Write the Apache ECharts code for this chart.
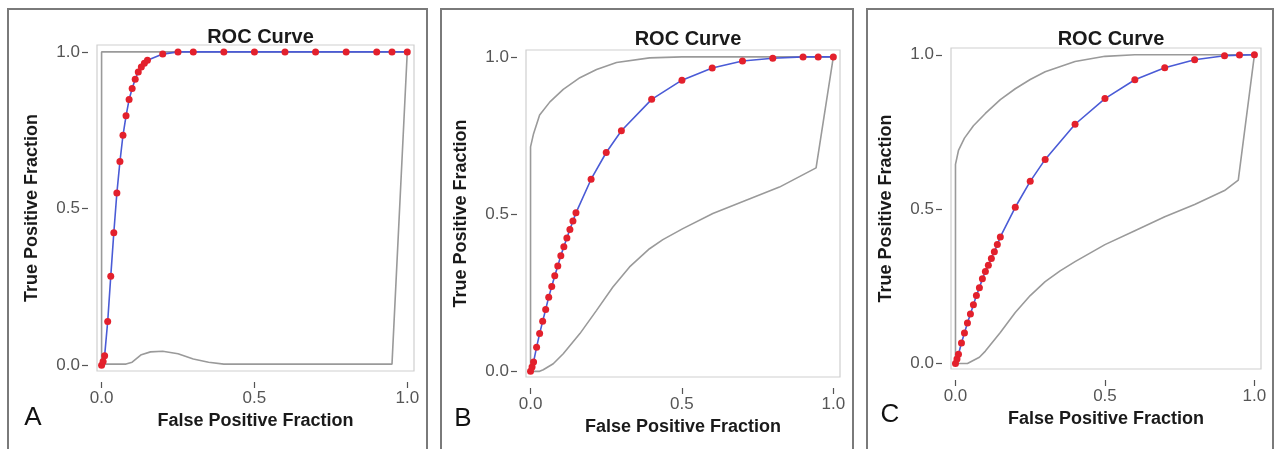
<!DOCTYPE html>
<html>
<head>
<meta charset="utf-8">
<script src="https://cdn.jsdelivr.net/npm/echarts@6/dist/echarts.min.js"></script>
<style>
html,body{margin:0;padding:0;background:#fff;}
#chart{width:1280px;height:449px;}
</style>
</head>
<body>
<div id="chart"></div>
<script>
// ---- data ----
const panelLetters = ['A', 'B', 'C'];
const titleText = 'ROC Curve';
const xAxisName = 'False Positive Fraction';
const yAxisName = 'True Positive Fraction';
const tickValues = [0, 0.5, 1];

const fpr = [0, 0.005, 0.01, 0.02, 0.03, 0.04, 0.05, 0.06, 0.07, 0.08, 0.09, 0.10, 0.11, 0.12, 0.13, 0.14, 0.15, 0.2, 0.25, 0.3, 0.4, 0.5, 0.6, 0.7, 0.8, 0.9, 0.95, 1.0];
const tprA = [0, 0.012, 0.031, 0.14, 0.284, 0.423, 0.55, 0.65, 0.734, 0.796, 0.848, 0.883, 0.913, 0.936, 0.952, 0.964, 0.973, 0.993, 1, 1, 1, 1, 1, 1, 1, 1, 1, 1];
const tprB = [0, 0.014, 0.03, 0.077, 0.12, 0.159, 0.197, 0.236, 0.27, 0.304, 0.335, 0.368, 0.396, 0.424, 0.451, 0.478, 0.504, 0.611, 0.696, 0.765, 0.865, 0.926, 0.965, 0.987, 0.996, 1, 1, 1];
const tprC = [0, 0.014, 0.03, 0.066, 0.099, 0.131, 0.16, 0.19, 0.22, 0.245, 0.274, 0.298, 0.318, 0.34, 0.362, 0.385, 0.41, 0.506, 0.59, 0.661, 0.775, 0.858, 0.919, 0.958, 0.984, 0.997, 0.999, 1];

const upperAx = [0, 0, 1];
const upperAy = [0, 1, 1];
const lowerAx = [0, 0.08, 0.1, 0.13, 0.16, 0.2, 0.25, 0.3, 0.35, 0.4, 0.95, 1];
const lowerAy = [0.004, 0.004, 0.01, 0.034, 0.043, 0.045, 0.037, 0.02, 0.01, 0.004, 0.004, 1];

const upperBx = [0, 0, 0.01, 0.03, 0.064, 0.108, 0.163, 0.218, 0.284, 0.393, 0.5, 1];
const upperBy = [0, 0.714, 0.756, 0.815, 0.857, 0.897, 0.934, 0.96, 0.982, 0.997, 1, 1];
const lowerBx = [0, 0.03, 0.042, 0.075, 0.108, 0.163, 0.218, 0.272, 0.327, 0.393, 0.437, 0.503, 0.602, 0.712, 0.822, 0.943, 1];
const lowerBy = [0, 0, 0.005, 0.024, 0.056, 0.12, 0.194, 0.268, 0.332, 0.39, 0.419, 0.454, 0.502, 0.544, 0.586, 0.647, 1];

const upperCx = [0, 0, 0.01, 0.03, 0.06, 0.1, 0.15, 0.2, 0.25, 0.3, 0.4, 0.5, 0.6, 1];
const upperCy = [0, 0.645, 0.69, 0.73, 0.77, 0.81, 0.855, 0.89, 0.92, 0.945, 0.978, 0.995, 1, 1];
const lowerCx = [0, 0.04, 0.08, 0.1, 0.15, 0.2, 0.25, 0.3, 0.35, 0.4, 0.5, 0.6, 0.7, 0.8, 0.9, 0.946, 1];
const lowerCy = [0, 0, 0.02, 0.04, 0.1, 0.165, 0.22, 0.265, 0.3, 0.33, 0.385, 0.43, 0.475, 0.515, 0.56, 0.594, 1];

// ---- layout ----
const FONT = 'Liberation Sans, Arial, sans-serif';
const layouts = [
  {grid: {left: 97, top: 45, width: 317, height: 326}, box: [8, 9, 419], letter: [33, 418], titleY: 22},
  {grid: {left: 526, top: 50, width: 314, height: 327}, box: [441, 9, 412], letter: [463, 419], titleY: 24},
  {grid: {left: 951, top: 48, width: 310, height: 321}, box: [867, 9, 406], letter: [890, 415], titleY: 24}
];
const tprs = [tprA, tprB, tprC];
const uppers = [[upperAx, upperAy], [upperBx, upperBy], [upperCx, upperCy]];
const lowers = [[lowerAx, lowerAy], [lowerBx, lowerBy], [lowerCx, lowerCy]];
const pairs = (xs, ys) => xs.map((x, i) => [x, ys[i]]);

const grids = [], xAxes = [], yAxes = [], series = [], titles = [], graphics = [];
layouts.forEach((L, i) => {
  grids.push(Object.assign({show: true, borderColor: '#cfcfcf', borderWidth: 1.2, backgroundColor: '#fff'}, L.grid));
  titles.push({
    text: titleText, left: L.grid.left + L.grid.width / 2, top: L.titleY, textAlign: 'center',
    textStyle: {fontFamily: FONT, fontSize: 20, fontWeight: 'bold', color: '#1a1a1a'}
  });
  xAxes.push({
    type: 'value', gridIndex: i, min: -0.015, max: 1.022, offset: 11,
    axisLine: {show: false, onZero: false}, splitLine: {show: false},
    axisTick: {show: true, length: 6, customValues: tickValues, lineStyle: {color: '#555', width: 1.2}},
    axisLabel: {customValues: tickValues, formatter: v => v.toFixed(1), fontFamily: FONT, fontSize: 17, color: '#555', margin: 8},
    name: xAxisName, nameLocation: 'middle', nameGap: 26,
    nameTextStyle: {fontFamily: FONT, fontSize: 18, fontWeight: 'bold', color: '#1a1a1a'}
  });
  yAxes.push({
    type: 'value', gridIndex: i, min: -0.018, max: 1.022, offset: 9,
    axisLine: {show: false, onZero: false}, splitLine: {show: false},
    axisTick: {show: true, length: 6, customValues: tickValues, lineStyle: {color: '#555', width: 1.2}},
    axisLabel: {customValues: tickValues, formatter: v => v.toFixed(1), fontFamily: FONT, fontSize: 17, color: '#555', margin: 8},
    name: yAxisName, nameLocation: 'middle', nameGap: 47,
    nameTextStyle: {fontFamily: FONT, fontSize: 18, fontWeight: 'bold', color: '#1a1a1a'}
  });
  const bandStyle = {color: '#9a9a9a', width: 1.6};
  series.push({type: 'line', xAxisIndex: i, yAxisIndex: i, data: pairs(uppers[i][0], uppers[i][1]), symbol: 'none', lineStyle: bandStyle, z: 1, silent: true});
  series.push({type: 'line', xAxisIndex: i, yAxisIndex: i, data: pairs(lowers[i][0], lowers[i][1]), symbol: 'none', lineStyle: bandStyle, z: 1, silent: true});
  series.push({
    type: 'line', xAxisIndex: i, yAxisIndex: i, data: pairs(fpr, tprs[i]),
    symbol: 'circle', symbolSize: 7, showAllSymbol: true,
    lineStyle: {color: '#4a5bd6', width: 1.6},
    itemStyle: {color: '#e3202c', borderWidth: 0}, z: 3
  });
  graphics.push({
    type: 'rect', shape: {x: L.box[0], y: L.box[1], width: L.box[2], height: 470},
    style: {fill: 'none', stroke: '#7a7a7a', lineWidth: 2}, z: 10, silent: true
  });
  graphics.push({
    type: 'text', x: L.letter[0], y: L.letter[1],
    style: {text: panelLetters[i], font: '26px ' + FONT, fill: '#111', textAlign: 'center', textVerticalAlign: 'middle'},
    z: 10
  });
});

const chart = echarts.init(document.getElementById('chart'), null, {renderer: 'canvas'});
chart.setOption({
  backgroundColor: '#fff',
  animation: false,
  title: titles,
  grid: grids,
  xAxis: xAxes,
  yAxis: yAxes,
  series: series,
  graphic: graphics
});
</script>
</body>
</html>
